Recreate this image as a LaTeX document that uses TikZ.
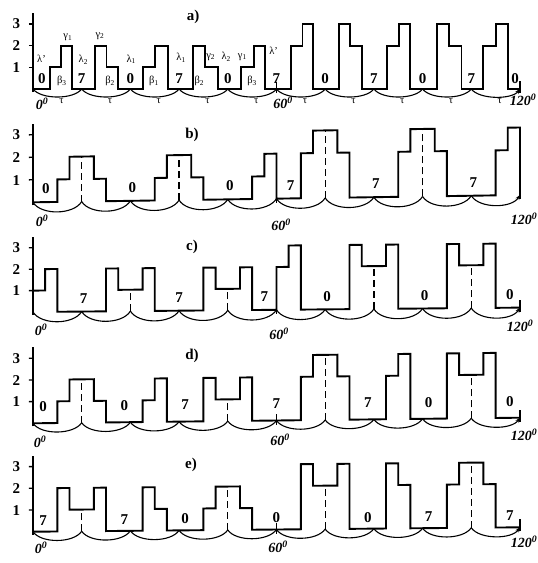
\documentclass[tikz,border=0pt]{standalone}
\usepackage{fontspec}
\setmainfont{Liberation Serif}
\usetikzlibrary{arrows.meta}
\tikzset{
  wave/.style={line width=1.9pt, line join=miter, line cap=butt},
  arcline/.style={line width=1.1pt},
  axisline/.style={line width=1.3pt},
  dashv/.style={line width=1.3pt, dash pattern=on 7pt off 4pt},
  digit/.style={font=\fontsize{15}{15}\selectfont\bfseries, inner sep=0pt},
  lvl/.style={font=\fontsize{15}{15}\selectfont\bfseries, inner sep=0pt},
  deg/.style={font=\fontsize{14}{14}\selectfont\bfseries\itshape, inner sep=0pt},
  ttl/.style={font=\fontsize{15}{15}\selectfont\bfseries, inner sep=0pt},
  greek/.style={font=\fontsize{10.5}{10.5}\selectfont, inner sep=0pt},
  taulab/.style={font=\fontsize{10.5}{10.5}\selectfont, inner sep=0pt},
}
\newcommand{\panelframe}[2]{%
  \draw[axisline] (0,-3) -- (0,{3*#1+11});
  \foreach \l in {1,2,3}{
    \draw[axisline] (-1,{\l*#1}) -- (0,{\l*#1});
    \node[lvl] at (-4.1,{\l*#1}) {\l};
  }
  \foreach \k in {0,...,8}{
    \draw[arcline] ({12*\k},0) .. controls ({12*\k+2},-#2) and ({12*\k+10},-#2) .. ({12*\k+12},0);
  }
  \draw[arcline,-{Stealth[length=5pt,width=4pt]}] (108,0) .. controls (110,-#2) and (118,-#2) .. (120,0);
  \draw[axisline] (60,-4) -- (60,7);
  \draw[axisline] (120,-4) -- (120,8);
}
\newcommand{\wave}[1]{\draw[wave] (0,0) \foreach \a/\l in {#1}{ -| (\a,{\l*\levsp}) } -- (120,0);}
\newcommand{\dashes}[1]{\foreach \a/\l in {#1}{\draw[dashv] (\a,0) -- (\a,{\l*\levsp});}}
\newcommand{\digits}[2]{\foreach \a/\t in {#2}{\node[digit] at (\a,#1) {\t};}}

\begin{document}
\begin{tikzpicture}[x=1pt,y=1pt]
\useasboundingbox (0,0) rectangle (538,-563);
\fill[white] (0,0) rectangle (538,-563);

% ---------------- panel a
\node[ttl] (ta) at (193,-17) {a)};
\begin{scope}[shift={(33,-89)}, x=4.058pt, y=1pt]
  \def\levsp{21.7}
  \panelframe{21.7}{10.7}
  \wave{4.3/1,6.9/2,9.5/0,15.2/2,18.1/1,20.9/0,27/1,30/2,33.2/0,39.4/2,42.3/1,45.5/0,51.3/1,54.5/2,57.2/0,63.5/2,66.4/3,69/0,75.5/3,78.2/2,81.1/0,87.3/2,90.3/3,93/0,99.5/3,102.6/2,105.6/0,111/2,114.2/3,117.1/0}
  \digits{10}{2.2/0,12/7,24/0,36/7,48/0,60/7,72/0,84/7,96/0,108/7,118.8/0}
  \node[greek] at (2.1,30) {λ'};
  \node[greek] at (7.1,8) {β\textsubscript{3}};
  \node[greek] at (8.6,51.4) {γ\textsubscript{1}};
  \node[greek] at (12.4,29.3) {λ\textsubscript{2}};
  \node[greek] at (16.5,53) {γ\textsubscript{2}};
  \node[greek] at (19,8) {β\textsubscript{2}};
  \node[greek] at (24.2,29.7) {λ\textsubscript{1}};
  \node[greek] at (29.8,8) {β\textsubscript{1}};
  \node[greek] at (36.5,31.5) {λ\textsubscript{1}};
  \node[greek] at (41,8) {β\textsubscript{2}};
  \node[greek] at (43.8,32) {γ\textsubscript{2}};
  \node[greek] at (47.6,32) {λ\textsubscript{2}};
  \node[greek] at (51.6,32) {γ\textsubscript{1}};
  \node[greek] at (54,8) {β\textsubscript{3}};
  \node[greek] at (59.3,38) {λ'};
  \foreach \k in {0,...,9}{\node[taulab] at ({12*\k+7},-12) {τ};}
\end{scope}
\node[deg] at (42,-104) {0\textsuperscript{0}};
\node[deg] at (283,-102.5) {60\textsuperscript{0}};
\node[deg] at (523,-100) {120\textsuperscript{0}};

% ---------------- panel b
\node[ttl] (tb) at (192,-135) {b)};
\begin{scope}[shift={(33,-202.3)}, cm={1,0.015,0,1,(0,0)}, x=4.058pt, y=1pt]
  \def\levsp{22.5}
  \panelframe{22.5}{13.3}
  \dashes{12/2,36/2,72/3,96/3}
  \wave{6/1,9/2,15/1,18/0,30/1,33/2,39/1,42/0,54/1,57/2,60/0,66/2,69/3,75/2,78/0,90/2,93/3,99/2,102/0,114/2,117/3,120/0}
  \digits{13.3}{3.2/0,24.5/0,48.5/0,63.5/7,84.5/7,108.5/7}
\end{scope}
\node[deg] at (42,-221) {0\textsuperscript{0}};
\node[deg] at (281,-225) {60\textsuperscript{0}};
\node[deg] at (524,-219) {120\textsuperscript{0}};

% ---------------- panel c
\node[ttl] (tc) at (192,-247) {c)};
\begin{scope}[shift={(33,-312)}, cm={1,0.009,0,1,(0,0)}, x=4.058pt, y=1pt]
  \def\levsp{21.4}
  \panelframe{21.4}{13.3}
  \dashes{24/1,48/1,84/2,108/2}
  \wave{0/1,3/2,6/0,18/2,21/1,27/2,30/0,42/2,45/1,51/2,54/0,60/2,63/3,66/0,78/3,81/2,87/3,90/0,102/3,105/2,111/3,114/0}
  \digits{13}{12.5/7,36/7,57/7,72.5/0,96.5/0,117.5/0}
\end{scope}
\node[deg] at (41,-330) {0\textsuperscript{0}};
\node[deg] at (279,-334) {60\textsuperscript{0}};
\node[deg] at (520,-326) {120\textsuperscript{0}};

% ---------------- panel d
\node[ttl] (td) at (192,-355.7) {d)};
\begin{scope}[shift={(33,-423.3)}, cm={1,0.0115,0,1,(0,0)}, x=4.058pt, y=1pt]
  \def\levsp{21.7}
  \panelframe{21.7}{12}
  \dashes{12/2,48/1,72/3,108/2}
  \wave{6/1,9/2,15/1,18/0,27/1,30/2,33/0,42/2,45/1,51/2,54/0,66/2,69/3,75/2,78/0,87/2,90/3,93/0,102/3,105/2,111/3,114/0}
  \digits{16.5}{2.5/0,22.5/0,37.5/7,60/7,82.5/7,97.5/0,117.5/0}
\end{scope}
\node[deg] at (40,-442) {0\textsuperscript{0}};
\node[deg] at (280,-440) {60\textsuperscript{0}};
\node[deg] at (524,-435) {120\textsuperscript{0}};

% ---------------- panel e
\node[ttl] (te) at (191,-465) {e)};
\begin{scope}[shift={(33,-531.7)}, cm={1,0.009,0,1,(0,0)}, x=4.058pt, y=1pt]
  \def\levsp{21.7}
  \panelframe{21.7}{12}
  \dashes{12/1,48/2,72/2,108/3}
  \wave{6/2,9/1,15/2,18/0,27/2,30/1,33/0,42/1,45/2,51/1,54/0,66/3,69/2,75/3,78/0,87/3,90/2,93/0,102/2,105/3,111/2,114/0}
  \digits{11.5}{2.5/7,22.5/7,37.5/0,60/0,82.5/0,97.5/7,117.5/7}
\end{scope}
\node[deg] at (41,-548) {0\textsuperscript{0}};
\node[deg] at (278,-547) {60\textsuperscript{0}};
\node[deg] at (524,-542) {120\textsuperscript{0}};
\end{tikzpicture}
\end{document}
